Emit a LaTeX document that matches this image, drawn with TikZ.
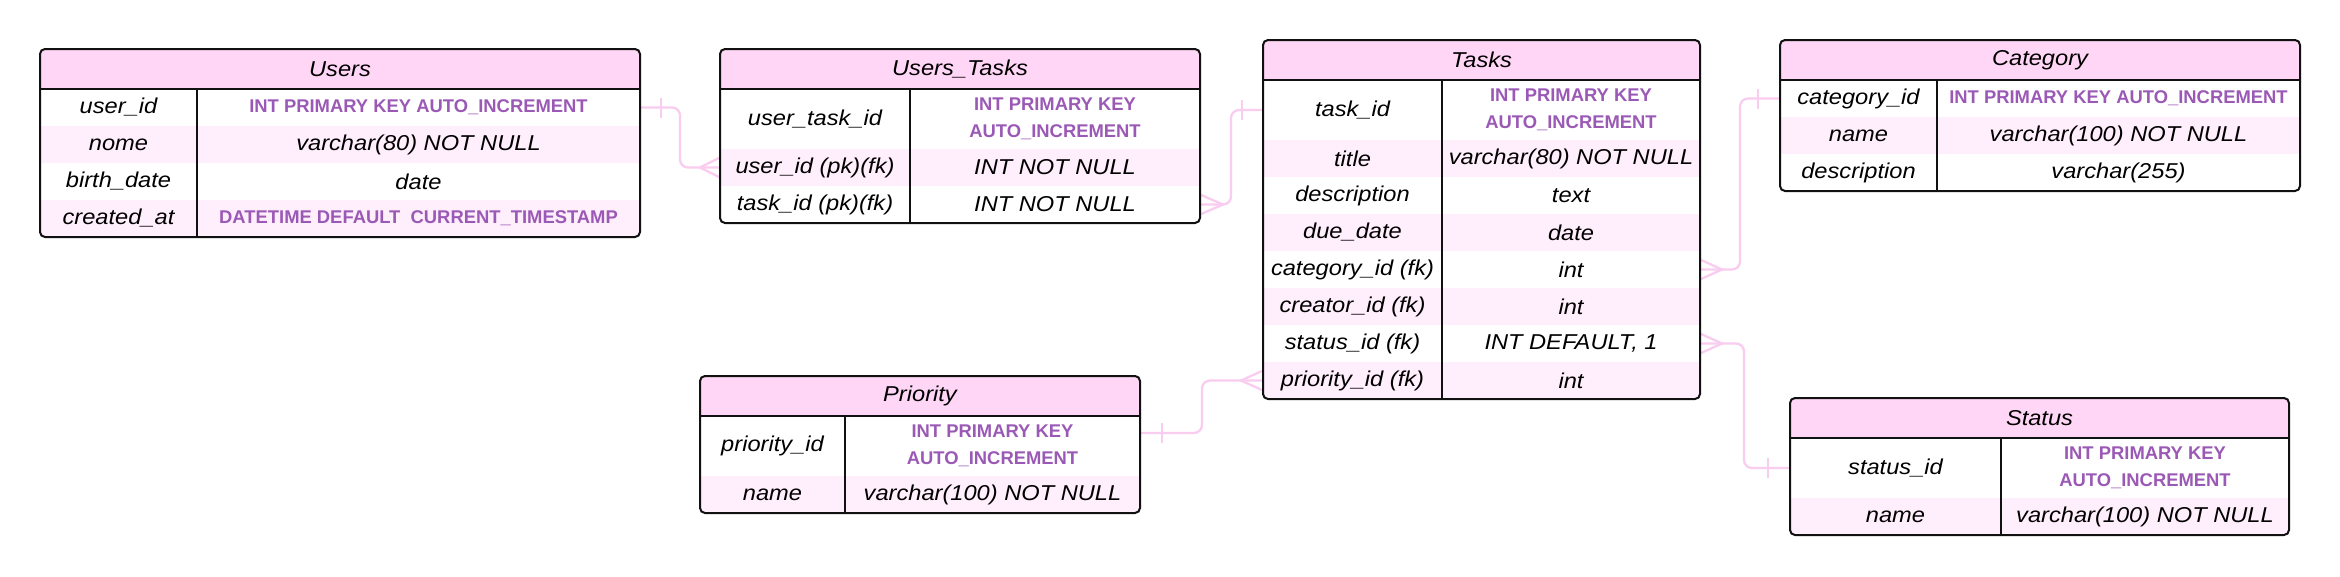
\documentclass[tikz,border=0pt]{standalone}
\usepackage{fontspec}
\setmainfont{Liberation Sans}[FakeStretch=1.1]
\newfontfamily\keyfamily{Liberation Sans}[FakeStretch=1.0]
\usetikzlibrary{calc}
\definecolor{hdrpink}{HTML}{FFD6F5}
\definecolor{rowpink}{HTML}{FFEEFB}
\definecolor{connpink}{HTML}{F9CDEF}
\definecolor{keypurple}{HTML}{9B59B6}
\definecolor{edgeblack}{HTML}{111111}
\newcommand\ftxt{\fontsize{21.5}{25}\selectfont\itshape}
\newcommand\fkey{\keyfamily\fontsize{18.4}{25}\selectfont\bfseries\upshape\color{keypurple}}
\pgfdeclarelayer{bglayer}
\pgfdeclarelayer{connlayer}
\pgfsetlayers{bglayer,connlayer,main}
\tikzset{
  cellbox/.style={draw=none, inner sep=0pt, outer sep=0pt, anchor=north west, align=center, font=\ftxt, text=black},
  hdrbox/.style={cellbox, fill=hdrpink},
  tblborder/.style={draw=edgeblack, line width=2pt, rounded corners=5pt},
  tblline/.style={draw=edgeblack, line width=2pt},
  conn/.style={draw=connpink, line width=2.3pt},
  connpath/.style={conn, rounded corners=8pt},
}
% row: name, L, D, R, top, height, fill, left text, right text
\newcommand\erow[9]{%
  \node[cellbox, fill=#7, minimum width={(#3-#2)*1pt}, minimum height={#6*1pt}] (#1l) at (#2,#5) {#8};
  \node[cellbox, fill=#7, minimum width={(#4-#3)*1pt}, minimum height={#6*1pt}] (#1r) at (#3,#5) {#9};}
% header: name, L, R, top, title
\newcommand\ehead[5]{%
  \node[hdrbox, minimum width={(#3-#2)*1pt}, minimum height=40pt] (#1) at (#2,#4) {#5};}
\newcommand\keyone{{\fkey INT PRIMARY KEY AUTO\_INCREMENT}}
\newcommand\keytwo{{\fkey INT PRIMARY KEY}\\[1.5pt]{\fkey AUTO\_INCREMENT}}
\begin{document}
\begin{tikzpicture}[x=1pt,y=-1pt]
\begin{pgfonlayer}{bglayer}
\fill[white] (0,0) rectangle (2340,576);
\end{pgfonlayer}
\useasboundingbox (0,0) rectangle (2340,576);

% ---------- Users
\begin{scope}
\clip[rounded corners=5pt] (40,49) rectangle (640,237);
\ehead{users}{40}{640}{49}{Users}
\erow{users-1}{40}{197}{640}{89}{37}{white}{user\_id}{\keyone}
\erow{users-2}{40}{197}{640}{126}{37}{rowpink}{nome}{varchar(80) NOT NULL}
\erow{users-3}{40}{197}{640}{163}{37}{white}{birth\_date}{date}
\erow{users-4}{40}{197}{640}{200}{37}{rowpink}{created\_at}{{\fkey DATETIME DEFAULT\ \ CURRENT\_TIMESTAMP}}
\end{scope}
\draw[tblline] (users.south west) -- (users.south east);
\draw[tblline] (users-1l.north east) -- (users-4l.south east);
\draw[tblborder] (users.north west) rectangle (users-4r.south east);

% ---------- Users_Tasks
\begin{scope}
\clip[rounded corners=5pt] (720,49) rectangle (1200,223);
\ehead{ut}{720}{1200}{49}{Users\_Tasks}
\erow{ut-1}{720}{910}{1200}{89}{60}{white}{user\_task\_id}{\keytwo}
\erow{ut-2}{720}{910}{1200}{149}{37}{rowpink}{user\_id (pk)(fk)}{INT NOT NULL}
\erow{ut-3}{720}{910}{1200}{186}{37}{white}{task\_id (pk)(fk)}{INT NOT NULL}
\end{scope}
\draw[tblline] (ut.south west) -- (ut.south east);
\draw[tblline] (ut-1l.north east) -- (ut-3l.south east);
\draw[tblborder] (ut.north west) rectangle (ut-3r.south east);

% ---------- Tasks
\begin{scope}
\clip[rounded corners=5pt] (1263,40) rectangle (1700,399);
\ehead{tk}{1263}{1700}{40}{Tasks}
\erow{tk-1}{1263}{1442}{1700}{80}{60}{white}{task\_id}{\keytwo}
\erow{tk-2}{1263}{1442}{1700}{140}{37}{rowpink}{title}{varchar(80) NOT NULL}
\erow{tk-3}{1263}{1442}{1700}{177}{37}{white}{description}{text}
\erow{tk-4}{1263}{1442}{1700}{214}{37}{rowpink}{due\_date}{date}
\erow{tk-5}{1263}{1442}{1700}{251}{37}{white}{category\_id (fk)}{int}
\erow{tk-6}{1263}{1442}{1700}{288}{37}{rowpink}{creator\_id (fk)}{int}
\erow{tk-7}{1263}{1442}{1700}{325}{37}{white}{status\_id (fk)}{INT DEFAULT, 1}
\erow{tk-8}{1263}{1442}{1700}{362}{37}{rowpink}{priority\_id (fk)}{int}
\end{scope}
\draw[tblline] (tk.south west) -- (tk.south east);
\draw[tblline] (tk-1l.north east) -- (tk-8l.south east);
\draw[tblborder] (tk.north west) rectangle (tk-8r.south east);

% ---------- Category
\begin{scope}
\clip[rounded corners=5pt] (1780,40) rectangle (2300,191);
\ehead{cat}{1780}{2300}{40}{Category}
\erow{cat-1}{1780}{1937}{2300}{80}{37}{white}{category\_id}{\keyone}
\erow{cat-2}{1780}{1937}{2300}{117}{37}{rowpink}{name}{varchar(100) NOT NULL}
\erow{cat-3}{1780}{1937}{2300}{154}{37}{white}{description}{varchar(255)}
\end{scope}
\draw[tblline] (cat.south west) -- (cat.south east);
\draw[tblline] (cat-1l.north east) -- (cat-3l.south east);
\draw[tblborder] (cat.north west) rectangle (cat-3r.south east);

% ---------- Priority
\begin{scope}
\clip[rounded corners=5pt] (700,376) rectangle (1140,513);
\ehead{pr}{700}{1140}{376}{Priority}
\erow{pr-1}{700}{845}{1140}{416}{60}{white}{priority\_id}{\keytwo}
\erow{pr-2}{700}{845}{1140}{476}{37}{rowpink}{name}{varchar(100) NOT NULL}
\end{scope}
\draw[tblline] (pr.south west) -- (pr.south east);
\draw[tblline] (pr-1l.north east) -- (pr-2l.south east);
\draw[tblborder] (pr.north west) rectangle (pr-2r.south east);

% ---------- Status
\begin{scope}
\clip[rounded corners=5pt] (1790,398) rectangle (2289,535);
\ehead{st}{1790}{2289}{398}{Status}
\erow{st-1}{1790}{2001}{2289}{438}{60}{white}{status\_id}{\keytwo}
\erow{st-2}{1790}{2001}{2289}{498}{37}{rowpink}{name}{varchar(100) NOT NULL}
\end{scope}
\draw[tblline] (st.south west) -- (st.south east);
\draw[tblline] (st-1l.north east) -- (st-2l.south east);
\draw[tblborder] (st.north west) rectangle (st-2r.south east);

% ---------- Connectors
\begin{pgfonlayer}{connlayer}
% Users 1 -- N Users_Tasks
\draw[connpath] (users-1r.east) -- ++(40,0) |- (ut-2l.west);
\draw[conn] ($(users-1r.east)+(21,-10)$) -- ($(users-1r.east)+(21,10)$);
\draw[conn] ($(ut-2l.west)+(0,-10)$) -- ($(ut-2l.west)+(-20,0)$) -- ($(ut-2l.west)+(0,10)$);
% Users_Tasks N -- 1 Tasks
\draw[connpath] (ut-3r.east) -- ++(31,0) |- (tk-1l.west);
\draw[conn] ($(ut-3r.east)+(0,-10)$) -- ($(ut-3r.east)+(23,0)$) -- ($(ut-3r.east)+(0,10)$);
\draw[conn] ($(tk-1l.west)+(-21,-10)$) -- ($(tk-1l.west)+(-21,10)$);
% Tasks N -- 1 Category
\draw[connpath] (tk-5r.east) -- ++(40,0) |- (cat-1l.west);
\draw[conn] ($(tk-5r.east)+(0,-10)$) -- ($(tk-5r.east)+(22,0)$) -- ($(tk-5r.east)+(0,10)$);
\draw[conn] ($(cat-1l.west)+(-22,-10)$) -- ($(cat-1l.west)+(-22,10)$);
% Tasks N -- 1 Status
\draw[connpath] (tk-7r.east) -- ++(44,0) |- (st-1l.west);
\draw[conn] ($(tk-7r.east)+(0,-10)$) -- ($(tk-7r.east)+(22,0)$) -- ($(tk-7r.east)+(0,10)$);
\draw[conn] ($(st-1l.west)+(-22,-10)$) -- ($(st-1l.west)+(-22,10)$);
% Priority 1 -- N Tasks
\coordinate (prout) at ([yshift=13pt]pr-1r.east);
\draw[connpath] (prout) -- ++(62,0) |- (tk-8l.west);
\draw[conn] ($(prout)+(22,-10)$) -- ($(prout)+(22,10)$);
\draw[conn] ($(tk-8l.west)+(0,-10)$) -- ($(tk-8l.west)+(-22,0)$) -- ($(tk-8l.west)+(0,10)$);
\end{pgfonlayer}
\end{tikzpicture}
\end{document}
